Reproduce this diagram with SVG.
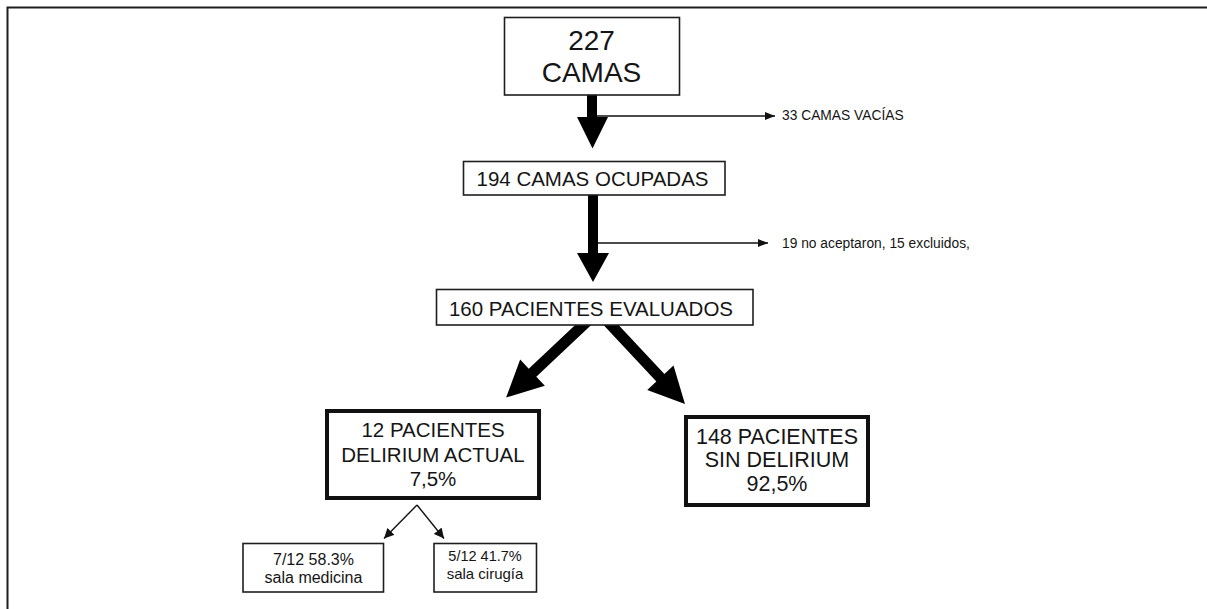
<svg xmlns="http://www.w3.org/2000/svg" width="1207" height="609" viewBox="0 0 1207 609">
<defs>
<style>
text{font-family:"Liberation Sans",Arial,sans-serif;fill:#151515}
.box{fill:#fff;stroke:#1e1e1e;stroke-width:1.6}
.tbox{fill:#fff;stroke:#111;stroke-width:4}
.thick{fill:#000}
.thin{fill:none;stroke:#111;stroke-width:1.4}
.big{font-size:28px;text-anchor:middle}
.mid{font-size:20.5px;text-anchor:middle}
.side{font-size:13.8px}
.sm{font-size:16px;text-anchor:middle}
</style>
<marker id="ah" viewBox="0 0 10 8" refX="10" refY="4" markerWidth="10" markerHeight="8" markerUnits="userSpaceOnUse" orient="auto">
<path d="M0,0 L10,4 L0,8 Z" fill="#111"/>
</marker>
<marker id="ahs" viewBox="0 0 10 10" refX="10" refY="5" markerWidth="10" markerHeight="10" markerUnits="userSpaceOnUse" orient="auto">
<path d="M0,0 L10,5 L0,10 Z" fill="#111"/>
</marker>
</defs>
<rect width="1207" height="609" fill="#fff"/>
<path d="M7.5,609 V7.5 H1207" fill="none" stroke="#1e1e1e" stroke-width="2"/>

<g id="connectors">
<path class="thick" d="M587,90 H597 V117 H608 L592.5,148.5 L577,117 H587 Z"/>
<line class="thin" x1="597" y1="116" x2="775" y2="116" marker-end="url(#ah)"/>
<path class="thick" d="M588,190 H598 V253 H609 L593,282 L577,253 H588 Z"/>
<line class="thin" x1="598" y1="243" x2="768" y2="243" marker-end="url(#ah)"/>
<path class="thick" transform="translate(582,326) rotate(46.7)" d="M-5.5,-10 H5.5 V68 H18 L0,104.3 L-18,68 H-5.5 Z"/>
<path class="thick" transform="translate(612,326) rotate(-43.1)" d="M-5.5,-10 H5.5 V70.8 H18 L0,106.8 L-18,70.8 H-5.5 Z"/>
<line class="thin" x1="417" y1="505" x2="384" y2="538.5" marker-end="url(#ahs)"/>
<line class="thin" x1="417" y1="505" x2="444" y2="538.5" marker-end="url(#ahs)"/>
</g>

<g id="n227">
<rect class="box" x="504.5" y="17.5" width="175" height="77.5"/>
<text class="big" x="591.5" y="50">227</text>
<text class="big" x="591.5" y="82">CAMAS</text>
</g>
<g id="n33">
<text class="side" x="782" y="120">33 CAMAS VACÍAS</text>
</g>
<g id="n194">
<rect class="box" x="463.5" y="161.5" width="261.5" height="33.5"/>
<text class="mid" x="592.5" y="186">194 CAMAS OCUPADAS</text>
</g>
<g id="n19">
<text class="side" x="782" y="247.5">19 no aceptaron, 15 excluidos,</text>
</g>
<g id="n160">
<rect class="box" x="436.5" y="289.5" width="316.5" height="35.5"/>
<text class="mid" x="591" y="316">160 PACIENTES EVALUADOS</text>
</g>
<g id="n12">
<rect class="tbox" x="327" y="411" width="212" height="87"/>
<text class="mid" x="433" y="437">12 PACIENTES</text>
<text class="mid" x="433" y="462">DELIRIUM ACTUAL</text>
<text class="mid" x="433" y="485.5">7,5%</text>
</g>
<g id="n148">
<rect class="tbox" x="686" y="417" width="182" height="88"/>
<text class="mid" x="777" y="443.5" style="font-size:21.5px">148 PACIENTES</text>
<text class="mid" x="777" y="466.5" style="font-size:21.5px">SIN DELIRIUM</text>
<text class="mid" x="777" y="491" style="font-size:21.5px">92,5%</text>
</g>
<g id="n7">
<rect class="box" x="243" y="543.5" width="140.5" height="48.5"/>
<text class="sm" x="313.5" y="564.5">7/12 58.3%</text>
<text class="sm" x="313.5" y="583">sala medicina</text>
</g>
<g id="n5">
<rect class="box" x="434" y="543.5" width="102.5" height="48.5"/>
<text class="sm" x="485" y="561" style="font-size:14.5px">5/12 41.7%</text>
<text class="sm" x="485" y="578.5" style="font-size:15px">sala cirugía</text>
</g>
</svg>
